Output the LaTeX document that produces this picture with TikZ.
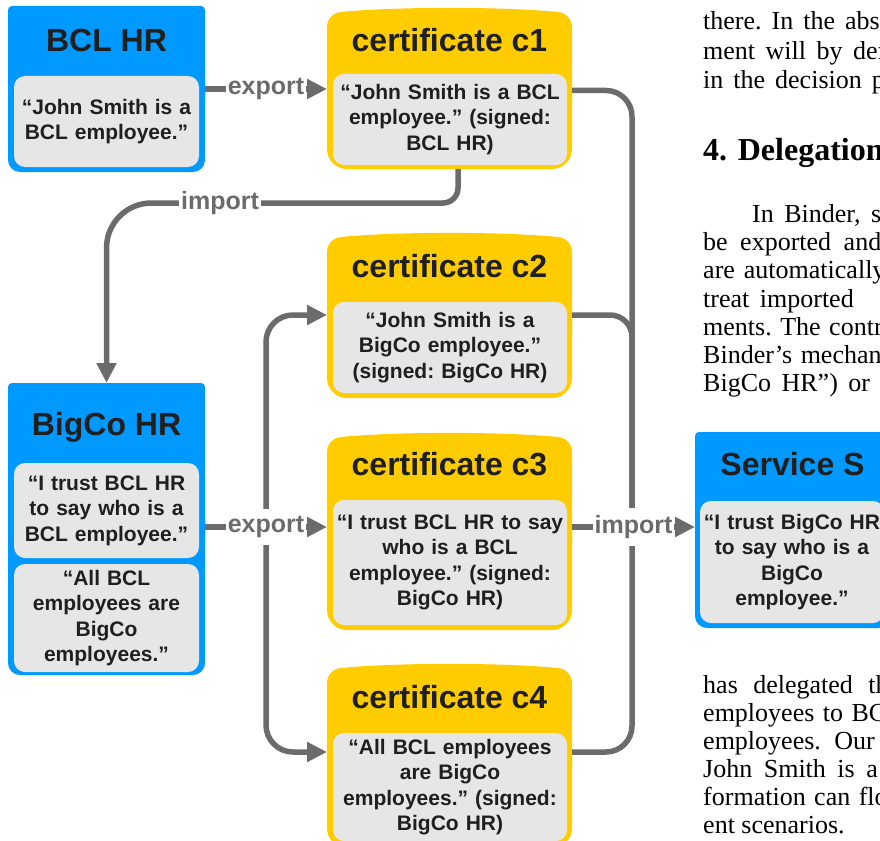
\documentclass[tikz,border=0pt]{standalone}
\usepackage{fontspec}
\newfontfamily\arialf{Liberation Sans}
\newfontfamily\timesf{Liberation Serif}
\usetikzlibrary{arrows.meta}
\definecolor{bcol}{HTML}{0099FF}
\definecolor{ycol}{HTML}{FFCC00}
\definecolor{gcol}{HTML}{E6E6E6}
\definecolor{lcol}{HTML}{6B6B6B}
\definecolor{tcol}{HTML}{1F1F1F}
\newcommand\bodyf{\arialf\bfseries\fontsize{21}{25.5}\selectfont\frenchspacing}
\newcommand\titlef{\arialf\bfseries\fontsize{32}{36}\selectfont}
\newcommand\lblf{\arialf\bfseries\fontsize{25}{30}\selectfont}
\newcommand\papf{\timesf\fontsize{26}{28}\selectfont}
\newcommand\paphf{\timesf\bfseries\fontsize{32}{34}\selectfont}
\newcommand\jl[2]{{\frenchspacing\spaceskip=#1pt\relax #2}}
\newcommand\BlueFill[1]{%
  \fill[bcol,rounded corners=4pt] (#1.north west) rectangle ([yshift=-20pt]#1.east);
  \fill[bcol,rounded corners=12pt] ([yshift=20pt]#1.west) rectangle (#1.south east);}
\newcommand\CertFill[1]{%
  \fill[ycol,rounded corners=15pt] (#1.north west) rectangle ([yshift=-25pt]#1.east);
  \fill[ycol,rounded corners=20pt] ([yshift=25pt]#1.west) rectangle (#1.south east);
  \fill[ycol] ([xshift=14pt]#1.north west) .. controls ([xshift=70pt,yshift=5.5pt]#1.north west) and ([xshift=-70pt,yshift=5.5pt]#1.north east) .. ([xshift=-14pt]#1.north east) -- cycle;}
\tikzset{
  frame/.style={inner sep=0pt, outer sep=0pt, draw=none, anchor=north west},
  inbox/.style={fill=gcol, rounded corners=11pt, inner sep=0pt, outer sep=0pt, align=center, anchor=north west, font=\bodyf, text=tcol},
  ttl/.style={anchor=base, font=\titlef, text=tcol, inner sep=0pt},
  lbl/.style={fill=white, font=\lblf, text=lcol, inner xsep=2pt, inner ysep=7pt},
  conn/.style={draw=lcol, line width=5.5pt},
  arr/.style={-{Triangle[length=20pt,width=19pt]}},
  ptxt/.style={anchor=base west, inner sep=0pt, font=\papf, text=black},
}
\begin{document}
\begin{tikzpicture}[x=1pt,y=-1pt]
\useasboundingbox (0,0) rectangle (880,840);
\clip (0,0) rectangle (880,840);
\fill[white] (0,0) rectangle (880,840);

% outer frames
\node[frame, minimum width=197pt, minimum height=166pt] (bcl) at (8,6) {};
\node[frame, minimum width=245pt, minimum height=157pt] (c1) at (327,12) {};
\node[frame, minimum width=245pt, minimum height=161pt] (c2) at (327,237) {};
\node[frame, minimum width=245pt, minimum height=193pt] (c3) at (327,437) {};
\node[frame, minimum width=245pt, minimum height=180pt] (c4) at (327,668) {};
\node[frame, minimum width=197pt, minimum height=292pt] (bigco) at (8,383) {};
\node[frame, minimum width=195pt, minimum height=196pt] (svc) at (695,432) {};
\BlueFill{bcl}
\BlueFill{bigco}
\BlueFill{svc}
\CertFill{c1}
\CertFill{c2}
\CertFill{c3}
\CertFill{c4}

% titles
\node[ttl] (bclT) at (106.5,52) {BCL HR};
\node[ttl] (c1T) at (449.5,52) {certificate c1};
\node[ttl] (c2T) at (449.5,277) {certificate c2};
\node[ttl] (c3T) at (449.5,475) {certificate c3};
\node[ttl] (c4T) at (449.5,708) {certificate c4};
\node[ttl] (bigT) at (106.5,435) {BigCo HR};
\node[ttl] (svcT) at (792.5,475) {Service S};

% inner statements
\node[inbox, text width=185pt, minimum height=91pt] (bclI) at (14,76) {“John Smith is a\\BCL employee.”};
\node[inbox, text width=234pt, minimum height=91pt] (c1I) at (333,74) {“John Smith is a BCL\\employee.” (signed:\\BCL HR)};
\node[inbox, text width=234pt, minimum height=91pt] (c2I) at (333,302) {“John Smith is a\\BigCo employee.”\\(signed: BigCo HR)};
\node[inbox, text width=234pt, minimum height=125pt] (c3I) at (333,500) {“I trust BCL HR to say\\who is a BCL\\employee.” (signed:\\BigCo HR)};
\node[inbox, text width=234pt, minimum height=108pt] (c4I) at (333,733) {“All BCL employees\\are BigCo\\employees.” (signed:\\BigCo HR)};
\node[inbox, text width=185pt, minimum height=95pt] (bigI1) at (14,463) {“I trust BCL HR\\to say who is a\\BCL employee.”};
\node[inbox, text width=185pt, minimum height=108pt] (bigI2) at (14,564) {“All BCL\\employees are\\BigCo\\employees.”};
\node[inbox, text width=184pt, minimum height=122pt] (svcI) at (700,501) {“I trust BigCo HR\\to say who is a\\BigCo\\employee.”};

% helper coordinates
\coordinate (imp) at (220,203);
\coordinate (fan) at (266,527);
\coordinate (a2) at (0,315);
\coordinate (a4) at (0,752);
\coordinate (rx) at (632,0);

% export BCL HR -> c1
\draw[conn,arr] (bcl.east) -- (bcl.east -| c1.west) node[lbl,midway] (ex1) {export};

% import c1 -> BigCo HR
\draw[conn, rounded corners=15pt] ([xshift=8.5pt]c1.south) |- (imp);
\draw[conn, arr, rounded corners=45pt] (imp) -| (bigco.north);
\node[lbl] (im1) at (imp) {import};

% right side collector
\draw[conn, rounded corners=26pt] (c1.east) -| (rx |- a4) -- (c4.east |- a4);
\draw[conn, rounded corners=22pt] (c2.east |- a2) -| (rx |- fan);

% export BigCo HR -> c2, c3, c4
\draw[conn, arr, rounded corners=27pt] (fan) |- (c2.west |- a2);
\draw[conn, arr, rounded corners=27pt] (fan) |- (c4.west |- a4);
\draw[conn, arr] (bigco.east |- fan) -- (c3.west |- fan);
\node[lbl] (ex2) at (fan) {export};

% import c3 -> Service S
\draw[conn, arr] (c3.east |- fan) -- (svc.west |- fan) node[lbl,midway] (im2) {import};

% surrounding paper text (cut at the right edge, as in the source)
\node[ptxt] (t1) at (703,30) {\jl{10}{there. In the abse}};
\node[ptxt] (t2) at (703,60) {\jl{10.5}{ment will by def}};
\node[ptxt] (t3) at (703,89) {\jl{10}{in the decision pr}};
\node[ptxt, font=\paphf] (t4) at (703,160) {4. Delegation};
\node[ptxt] (t5) at (752,222) {\jl{10.5}{In Binder, s}};
\node[ptxt] (t6) at (703,250) {\jl{12.5}{be exported and}};
\node[ptxt] (t7) at (703,278) {\jl{9}{are automatically}};
\node[ptxt] (t8) at (703,307) {\jl{10.5}{treat imported}};
\node[ptxt] (t9) at (703,335) {\jl{8.5}{ments. The contr}};
\node[ptxt] (t10) at (703,363) {\jl{8.5}{Binder’s mechan}};
\node[ptxt] (t11) at (703,391) {\jl{10.5}{BigCo HR”) or}};
\node[ptxt] (t12) at (703,693) {\jl{15.5}{has delegated th}};
\node[ptxt] (t13) at (703,721) {\jl{8.5}{employees to BC}};
\node[ptxt] (t14) at (703,749) {\jl{13.5}{employees. Our}};
\node[ptxt] (t15) at (703,777) {\jl{11.5}{John Smith is a}};
\node[ptxt] (t16) at (703,805) {\jl{8.5}{formation can flo}};
\node[ptxt] (t17) at (703,833) {\jl{6.5}{ent scenarios.}};
\end{tikzpicture}
\end{document}
